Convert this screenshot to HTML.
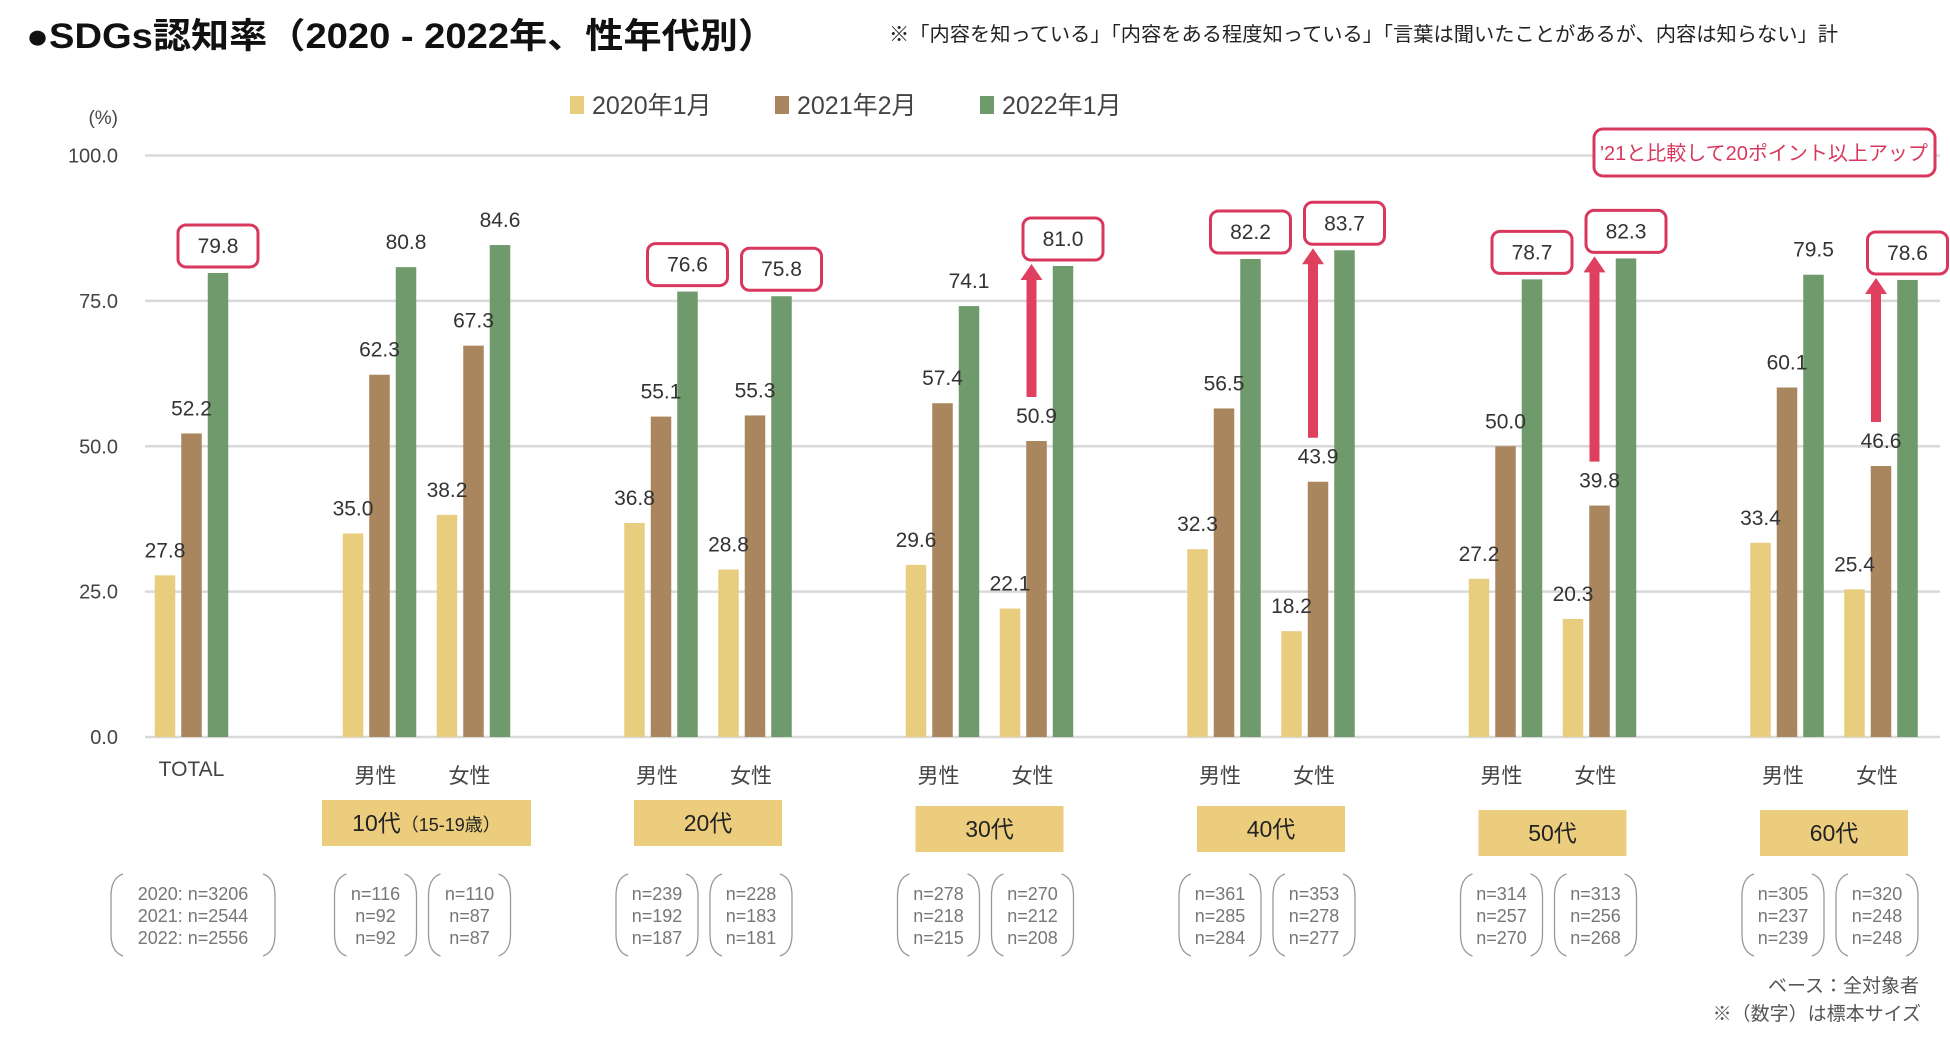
<!DOCTYPE html>
<html><head><meta charset="utf-8">
<style>
body{margin:0;background:#fff;width:1950px;height:1041px;overflow:hidden;font-family:"Liberation Sans","Noto Sans CJK JP",sans-serif;}
svg text{font-family:"Liberation Sans","Noto Sans CJK JP",sans-serif;}
</style></head>
<body>
<svg id="chart" width="1950" height="1041" viewBox="0 0 1950 1041" xmlns="http://www.w3.org/2000/svg">
  <text x="26" y="48" font-size="35" font-weight="bold" fill="#111" textLength="750" lengthAdjust="spacingAndGlyphs">●SDGs認知率（2020 - 2022年、性年代別）</text>
  <text x="889" y="41" font-size="20" fill="#222" textLength="949" lengthAdjust="spacingAndGlyphs">※「内容を知っている」「内容をある程度知っている」「言葉は聞いたことがあるが、内容は知らない」計</text>
  <g>
    <rect x="570" y="96" width="14" height="18" fill="#e9cd7f"/>
    <text x="592" y="114" font-size="25" fill="#444">2020年1月</text>
    <rect x="775" y="96" width="14" height="18" fill="#a9865e"/>
    <text x="797" y="114" font-size="25" fill="#444">2021年2月</text>
    <rect x="980" y="96" width="14" height="18" fill="#6f9a6b"/>
    <text x="1002" y="114" font-size="25" fill="#444">2022年1月</text>
  </g>
  <text x="118" y="124" font-size="19" fill="#444" text-anchor="end">(%)</text>
  <g id="grid"></g><g id="bars"></g><g id="labels"></g>
  <g>
    <rect x="1594" y="129" width="341" height="47" rx="9" fill="#fff" stroke="#d8385d" stroke-width="3"/>
    <text x="1764" y="160" font-size="20" fill="#d8385d" text-anchor="middle">'21と比較して20ポイント以上アップ</text>
  </g>
  <text x="1919" y="992" font-size="19" fill="#555" text-anchor="end">ベース：全対象者</text>
  <text x="1921" y="1020" font-size="19" fill="#555" text-anchor="end">※（数字）は標本サイズ</text>
</svg>
<script>
const categories = ["TOTAL","10男","10女","20男","20女","30男","30女","40男","40女","50男","50女","60男","60女"];
const values2020 = [27.8,35.0,38.2,36.8,28.8,29.6,22.1,32.3,18.2,27.2,20.3,33.4,25.4];
const values2021 = [52.2,62.3,67.3,55.1,55.3,57.4,50.9,56.5,43.9,50.0,39.8,60.1,46.6];
const values2022 = [79.8,80.8,84.6,76.6,75.8,74.1,81.0,82.2,83.7,78.7,82.3,79.5,78.6];
const highlighted = [0,3,4,6,7,8,9,10,12];
const arrowCats = [6,8,10,12];
const ageGroups = ["10代","20代","30代","40代","50代","60代"];
const nLine1 = [116,110,239,228,278,270,361,353,314,313,305,320];
const nLine2 = [92,87,192,183,218,212,285,278,257,256,237,248];
const nLine3 = [92,87,187,181,215,208,284,277,270,268,239,248];
const yTicks = [0,25,50,75,100];

const NS="http://www.w3.org/2000/svg";
const Y0=737, Y100=155.5;
function yScale(v){return Y0-(Y0-Y100)*v/100;}
function xCenter(i){ if(i===0) return 191.5; const g=Math.floor((i-1)/2), f=(i-1)%2; return 379.5+281.5*g+94*f; }
function mk(tag,attrs,parent,txt){const e=document.createElementNS(NS,tag);for(const k in attrs)e.setAttribute(k,attrs[k]);if(txt!==undefined)e.textContent=txt;parent.appendChild(e);return e;}
const grid=document.getElementById('grid'), bars=document.getElementById('bars'), labels=document.getElementById('labels');

yTicks.forEach(t=>{
  const l=mk('line',{x1:145,x2:1940,y1:yScale(t),y2:yScale(t),stroke:'#d9d9d9','stroke-width':2.5},grid);
  
  
  const tx=mk('text',{x:118,y:yScale(t)+7,'font-size':20,fill:'#444','text-anchor':'end'},grid,t.toFixed(1));
  
  
});

const series=[values2020,values2021,values2022], colors=['#e9cd7f','#a9865e','#6f9a6b'], years=['2020','2021','2022'];
const BW=20.5, PITCH=26.5;
categories.forEach((c,i)=>{
  const cx=xCenter(i);
  series.forEach((s,k)=>{
    const bx=cx+(k-1)*PITCH;
    const r=mk('rect',{x:bx-BW/2,y:yScale(s[i]),width:BW,height:Y0-yScale(s[i]),fill:colors[k]},bars);
    
    
    const hl = k===2 && highlighted.includes(i);
    const ly = hl ? yScale(s[i])-20 : yScale(s[i])-18;
    if(hl){
      const b=mk('rect',{x:bx-40,y:yScale(s[i])-48,width:80,height:42,rx:8,fill:'#fff',stroke:'#d8385d','stroke-width':3},labels);
      
      
    }
    const t=mk('text',{x:bx,y:ly,'font-size':21,fill:'#333','text-anchor':'middle'},labels,s[i].toFixed(1));
    
    
  });
  if(arrowCats.includes(i)){
    const ax=cx-5, yb=yScale(values2021[i])-44, yt=yScale(values2022[i])-2;
    const a=mk('path',{d:`M${ax-5},${yb} L${ax+5},${yb} L${ax+5},${yt+16} L${ax+11},${yt+16} L${ax},${yt} L${ax-11},${yt+16} L${ax-5},${yt+16} Z`,fill:'#e0405f'},labels);
    
    
  }
  const lab = i===0 ? 'TOTAL' : ((i-1)%2===0 ? '男性' : '女性');
  const ct=mk('text',{x:i===0?cx:cx-4,y:i===0?776:783,'font-size':21,fill:'#444','text-anchor':'middle'},labels,lab);
  
  
  const w = i===0?164:82, bxc = i===0?193:cx-4, x=bxc-w/2, y=874, h=82;
  const p=mk('path',{d:`M${x+12},${y} Q${x},${y+4} ${x},${y+22} L${x},${y+h-22} Q${x},${y+h-4} ${x+12},${y+h} M${x+w-12},${y} Q${x+w},${y+4} ${x+w},${y+22} L${x+w},${y+h-22} Q${x+w},${y+h-4} ${x+w-12},${y+h}`,fill:'none',stroke:'#999','stroke-width':1.3},labels);
  
  
  const lines = i===0 ? ['2020: n=3206','2021: n=2544','2022: n=2556'] : ['n='+nLine1[i-1],'n='+nLine2[i-1],'n='+nLine3[i-1]];
  lines.forEach((L,j)=>{
    const nt=mk('text',{x:bxc,y:900+j*22,'font-size':18,fill:'#777','text-anchor':'middle'},labels,L);
    
    
  });
});
const boxTops=[800,800,806,806,810,810];
ageGroups.forEach((g,j)=>{
  const c=(xCenter(1+2*j)+xCenter(2+2*j))/2, w=j===0?209:148;
  const r=mk('rect',{x:c-w/2,y:boxTops[j],width:w,height:46,fill:'#ebcd7d'},labels);
  
  
  const t=mk('text',{x:c,y:boxTops[j]+31,'font-size':23,fill:'#222','text-anchor':'middle'},labels);
  
  
  t.textContent=g;
  if(j===0){mk('tspan',{'font-size':18},t,'（15-19歳）');}
});
</script>
</body></html>
